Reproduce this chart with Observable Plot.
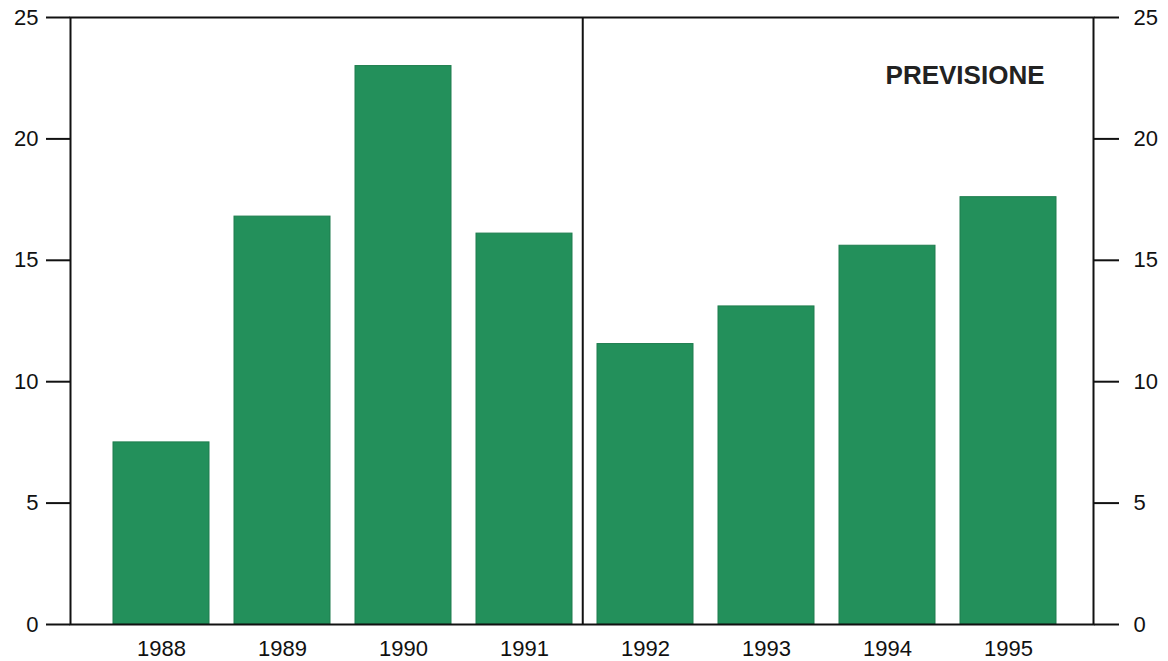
<!DOCTYPE html>
<html>
<head>
<meta charset="utf-8">
<script src="https://cdn.jsdelivr.net/npm/d3@7"></script>
<script src="https://cdn.jsdelivr.net/npm/@observablehq/plot@0.6"></script>
<style>
  html, body { margin: 0; padding: 0; background: #fff; }
</style>
</head>
<body>
<div id="chart"></div>
<script>
const years = ["1988", "1989", "1990", "1991", "1992", "1993", "1994", "1995"];
const values = [7.5, 16.8, 23.0, 16.1, 11.55, 13.1, 15.6, 17.6];
const yTicks = [0, 5, 10, 15, 20, 25];
const forecastStart = "1992";
const annotationLabel = "PREVISIONE";
const annotationYear = "1995";
const annotationValue = 22.6;

const data = years.map((year, i) => ({year, value: values[i]}));

const xRange = [98, 1070];
const padInner = 0.21, padOuter = 0.105;
const step = (xRange[1] - xRange[0]) / (years.length - padInner + 2 * padOuter);

const chart = Plot.plot({
  width: 1168,
  height: 661,
  marginTop: 17,
  marginBottom: 37,
  marginLeft: 70,
  marginRight: 75,
  style: {fontFamily: "'Liberation Sans', Arial, sans-serif", fontSize: "22px", color: "#111", background: "#fff"},
  x: {domain: years, range: xRange, paddingInner: padInner, paddingOuter: padOuter, label: null},
  y: {domain: [0, 25], label: null},
  marks: [
    Plot.barY(data, {x: "year", y: "value", fill: "#23905b", stroke: "#1e7d4e", strokeWidth: 1}),
    Plot.ruleX([forecastStart], {x: d => d, dx: -step / 2 - 2, stroke: "#111", strokeWidth: 2}),
    Plot.frame({stroke: "#111", strokeWidth: 2}),
    Plot.axisY(yTicks, {anchor: "left", tickSize: 24, tickPadding: 8, strokeWidth: 2, label: null}),
    Plot.axisY(yTicks, {anchor: "right", tickSize: 25, tickPadding: 15, strokeWidth: 2, label: null}),
    Plot.axisX({tickSize: 0, tickPadding: 16, label: null}),
    Plot.text([{label: annotationLabel, year: annotationYear, value: annotationValue}],
      {x: "year", y: "value", text: "label", textAnchor: "end", dx: 36, fontWeight: "bold", fontSize: 26, fill: "#222"})
  ]
});
document.getElementById("chart").append(chart);
</script>
</body>
</html>
